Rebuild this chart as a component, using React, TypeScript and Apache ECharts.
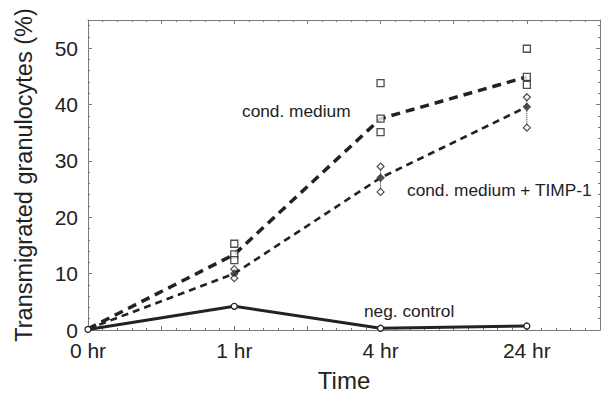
import React, { useEffect, useRef } from "react";
import * as echarts from "echarts";

const timeLabels = ["0 hr", "1 hr", "4 hr", "24 hr"];
const timePos = [0, 1, 2, 3];
const condMediumMean = [0.2, 13.4, 37.5, 44.9];
const timpMean = [0.2, 10.0, 27.0, 39.6];
const negControl = [0.1, 4.2, 0.3, 0.7];
const condMediumReps = [[], [15.3, 13.4, 12.4], [43.8, 37.5, 35.1], [49.9, 44.9, 43.5]];
const timpReps = [[], [10.8, 10.0, 9.2], [29.0, 27.0, 24.5], [41.3, 39.6, 35.9]];
const annotations = [
  { text: "cond. medium", x: 242, y: 112 },
  { text: "cond. medium + TIMP-1", x: 407, y: 191 },
  { text: "neg. control", x: 364, y: 312 },
];

const INK = "#222";
const FRAME = "#7a7a7a";
const FONT = "'Liberation Sans', Arial, sans-serif";

export default function App() {
  const ref = useRef<HTMLDivElement>(null);
  useEffect(() => {
    if (!ref.current) return;
    const chart = echarts.init(ref.current, null, { renderer: "svg" });

    const pairs = (vals: number[]) => timePos.map((t, i) => [t, vals[i]]);
    const repPoints = (reps: number[][]) => {
      const out: number[][] = [];
      reps.forEach((arr, i) => arr.forEach((v) => out.push([timePos[i], v])));
      return out;
    };

    const xCommon = {
      type: "value" as const,
      min: 0,
      max: 3.5,
      interval: 0.5,
      axisLine: { show: true, onZero: false, lineStyle: { color: FRAME, width: 1 } },
      axisTick: { show: true, inside: true, length: 4, lineStyle: { color: FRAME } },
      minorTick: { show: true, splitNumber: 5, length: 2, lineStyle: { color: FRAME } },
      splitLine: { show: false },
      minorSplitLine: { show: false },
    };
    const yCommon = {
      type: "value" as const,
      min: 0,
      max: 55,
      interval: 10,
      axisLine: { show: true, onZero: false, lineStyle: { color: FRAME, width: 1 } },
      axisTick: { show: true, inside: true, length: 4, lineStyle: { color: FRAME } },
      minorTick: { show: true, splitNumber: 5, length: 2, lineStyle: { color: FRAME } },
      splitLine: { show: false },
      minorSplitLine: { show: false },
    };

    const rangeSeries = timpReps
      .map((arr, i) => ({ arr, i }))
      .filter((d) => d.arr.length > 1)
      .map((d) => ({
        type: "line",
        data: [
          [timePos[d.i], Math.max(...d.arr)],
          [timePos[d.i], Math.min(...d.arr)],
        ],
        symbol: "none",
        lineStyle: { color: INK, width: 1, type: "dotted" },
        z: 2,
        silent: true,
      }));

    chart.setOption({
      animation: false,
      backgroundColor: "#fff",
      textStyle: { fontFamily: FONT },
      grid: { left: 88, right: 4, top: 20, bottom: 65, containLabel: false },
      xAxis: [
        {
          ...xCommon,
          position: "bottom",
          name: "Time",
          nameLocation: "middle",
          nameGap: 38,
          nameTextStyle: { fontSize: 24, color: INK, fontFamily: FONT },
          axisLabel: {
            fontSize: 21,
            lineHeight: 17,
            color: INK,
            margin: 12,
            fontFamily: FONT,
            formatter: (v: number) => {
              const idx = timePos.indexOf(v);
              return idx >= 0 ? timeLabels[idx] : "";
            },
          },
        },
        { ...xCommon, position: "top", axisLabel: { show: false } },
      ],
      yAxis: [
        {
          ...yCommon,
          position: "left",
          name: "Transmigrated granulocytes (%)",
          nameLocation: "middle",
          nameRotate: 90,
          nameGap: 52,
          nameTextStyle: { fontSize: 23.5, color: INK, fontFamily: FONT },
          axisLabel: {
            fontSize: 21,
            lineHeight: 17,
            color: INK,
            margin: 10,
            fontFamily: FONT,
            formatter: (v: number) => (v % 10 === 0 ? String(v) : ""),
          },
        },
        { ...yCommon, position: "right", axisLabel: { show: false } },
      ],
      series: [
        {
          name: "neg. control",
          type: "line",
          data: pairs(negControl),
          symbol: "circle",
          symbolSize: 6,
          itemStyle: { color: "#fff", borderColor: INK, borderWidth: 1.3 },
          lineStyle: { color: INK, width: 3 },
          z: 3,
        },
        {
          name: "cond. medium",
          type: "line",
          data: pairs(condMediumMean),
          symbol: "none",
          lineStyle: { color: INK, width: 3.5, type: [9, 6] },
          z: 3,
        },
        {
          name: "cond. medium + TIMP-1",
          type: "line",
          data: pairs(timpMean),
          symbol: "none",
          lineStyle: { color: INK, width: 2.6, type: [7, 5] },
          z: 3,
        },
        ...rangeSeries,
        {
          name: "cond. medium replicates",
          type: "scatter",
          data: repPoints(condMediumReps),
          symbol: "rect",
          symbolSize: 7,
          itemStyle: { color: "#fff", borderColor: INK, borderWidth: 1.3 },
          z: 5,
        },
        {
          name: "TIMP-1 replicates",
          type: "scatter",
          data: repPoints(timpReps),
          symbol: "diamond",
          symbolSize: 7,
          itemStyle: { color: "#fff", borderColor: INK, borderWidth: 1.2 },
          z: 5,
        },
        {
          name: "TIMP-1 mean",
          type: "scatter",
          data: pairs(timpMean).slice(1),
          symbol: "diamond",
          symbolSize: 6,
          itemStyle: { color: INK },
          z: 6,
        },
      ],
      graphic: annotations.map((a) => ({
        type: "text",
        left: a.x,
        top: a.y - 10,
        style: { text: a.text, fill: INK, fontSize: 17.3, fontFamily: FONT },
        z: 10,
      })),
    });
    return () => chart.dispose();
  }, []);
  return (
    <div
      ref={ref}
      style={{ position: "absolute", left: 0, top: 0, width: 604, height: 397 }}
    />
  );
}
